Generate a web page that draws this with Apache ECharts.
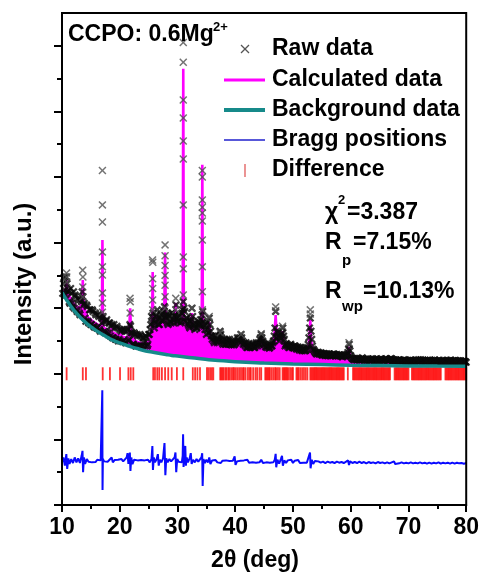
<!DOCTYPE html>
<html><head><meta charset="utf-8">
<script src="https://cdn.jsdelivr.net/npm/echarts@6/dist/echarts.min.js"></script>
<style>html,body{margin:0;padding:0;background:#fff}#c{width:482px;height:577px}</style>
</head><body><div id="c"></div>
<script>
// ---- data (y in arbitrary intensity units) ----
const xTicks = [10, 20, 30, 40, 50, 60, 70, 80];
const yMajor = [0, 2, 4, 6, 8, 10, 12, 14];
const yMinor = [1, 3, 5, 7, 9, 11, 13];

// raw data, step scan (two interleaved passes, 0.125 deg apart)
const rawStart = 10.25, rawStep = 0.25;
const rawY = [
 6.75,6.55,6.95,6.5, 6.2,6.6,6.15,6.5, 6.4,5.95,6.3,5.85, 6.25,6.5,6.1,5.7,
 6.1,5.6,5.95,5.5, 5.95,5.45,5.85,5.4, 5.8,5.35,5.75,5.7, 5.6,5.25,5.65,5.2,
 5.55,5.45,5.1,5.5, 5.05,5.45,5.0,5.35, 5.3,4.98,5.35,4.95, 5.3,5.0,5.5,5.25,
 4.9,5.25,4.85,5.2, 4.85,5.2,4.82,5.1, 4.95,5.15,4.85,5.2, 5.35,5.75,5.85,5.4,
 5.75,5.95,5.5,5.7, 5.65,5.85,6.05,5.75, 5.55,5.75,5.6,5.85, 5.65,5.75,6.1,5.6,
 5.75,5.55,5.85,6.2, 5.9,5.7,5.55,5.45, 5.6,6.0,5.5,5.35, 5.4,5.5,5.55,5.65,
 5.8,5.6,5.35,5.2, 5.35,5.7,5.3,5.05, 5.0,5.1,5.0,5.05, 5.15,5.2,5.0,4.95,
 4.9,5.0,4.95,5.05, 4.9,4.95,4.88,4.95, 5.0,5.05,5.1,5.2, 5.0,4.95,4.85,4.8,
 4.85,4.82,4.9,4.88, 4.8,4.85,4.9,4.95, 5.05,5.2,5.0,4.9, 4.82,4.8,4.85,4.8,
 4.85,4.95,5.15,5.9, 5.3,5.15,5.1,5.2, 5.4,5.05,4.9,4.85, 4.8,4.88,4.85,4.82,
 4.85,4.78,4.8,4.75, 4.8,4.72,4.75,4.7, 4.72,4.8,5.1,5.7, 5.05,4.75,4.68,4.62,
 4.65,4.6,4.63,4.57, 4.61,4.56,4.6,4.55, 4.6,4.55,4.58,4.6, 4.55,4.58,4.54,4.57,
 4.55,4.52,4.56,4.54, 4.58,4.65,4.9,4.55, 4.47,4.44,4.47,4.42, 4.46,4.43,4.44,4.49,
 4.42,4.44,4.4,4.44, 4.41,4.43,4.46,4.41, 4.44,4.4,4.42,4.39, 4.44,4.4,4.43,4.46,
 4.41,4.39,4.44,4.47, 4.41,4.39,4.43,4.4, 4.42,4.38,4.41,4.39, 4.43,4.38,4.4,4.37,
 4.41,4.38,4.4,4.37, 4.41,4.39,4.43,4.38, 4.4,4.42,4.38,4.36, 4.4,4.38,4.41,4.37,
 4.39,4.42,4.38,4.36, 4.4,4.37,4.39,4.41, 4.37,4.39,4.36,4.38, 4.41,4.37,4.4,4.38,
 4.36,4.39,4.37,4.4, 4.36,4.38,4.37,4.35
];
const rawStart2 = 10.125;
const rawY2 = [
 6.45,6.95,6.4,6.75, 6.55,6.15,6.45,6.05, 6.0,6.35,5.9,6.25, 5.8,6.2,6.35,6.15,
 5.6,6.05,5.55,5.95, 5.5,5.9,5.42,5.8, 5.4,5.75,5.3,5.55, 5.75,5.3,5.6,5.25,
 5.55,5.15,5.5,5.1, 5.4,5.05,5.4,5.05, 5.0,5.35,5.0,5.3, 4.95,5.35,5.05,5.45,
 5.25,4.9,5.2,4.85, 5.15,4.85,5.15,4.85, 5.1,4.85,5.1,4.9, 5.2,5.5,5.55,5.6,
 5.55,5.8,5.65,5.5, 5.8,5.6,5.9,5.7, 5.8,5.5,5.8,5.55, 5.85,5.55,5.8,5.7,
 5.6,5.8,5.6,5.95, 6.0,5.6,5.7,5.5, 5.4,5.65,5.75,5.45, 5.55,5.4,5.6,5.5,
 5.45,5.9,5.45,5.5, 5.55,5.25,5.5,5.15, 5.15,4.95,5.15,4.95, 5.0,5.3,5.1,4.9,
 5.05,4.9,5.05,4.9, 5.0,4.88,5.0,4.9, 4.95,5.1,5.0,5.05, 5.1,4.9,4.9,4.95,
 4.8,4.92,4.8,4.85, 4.9,4.8,4.95,4.85, 4.9,5.1,5.1,4.95, 4.9,4.85,4.9,4.78,
 4.9,4.85,5.0,5.4, 5.1,5.25,5.0,5.1, 5.25,5.15,4.85,4.92, 4.88,4.8,4.9,4.8,
 4.78,4.85,4.75,4.82, 4.72,4.8,4.7,4.76, 4.7,4.75,4.9,5.4, 5.3,4.85,4.72,4.65,
 4.6,4.66,4.6,4.64, 4.57,4.62,4.56,4.61, 4.56,4.6,4.55,4.58, 4.6,4.55,4.59,4.55,
 4.58,4.55,4.52,4.57, 4.55,4.58,4.75,4.7, 4.5,4.46,4.42,4.46, 4.42,4.47,4.42,4.45,
 4.46,4.41,4.45,4.41, 4.44,4.4,4.42,4.45, 4.41,4.45,4.39,4.43, 4.41,4.46,4.41,4.43,
 4.44,4.42,4.4,4.44, 4.45,4.43,4.38,4.42, 4.39,4.42,4.4,4.37, 4.4,4.41,4.37,4.41,
 4.39,4.42,4.37,4.4, 4.38,4.42,4.38,4.4, 4.43,4.38,4.4,4.41, 4.37,4.41,4.38,4.4,
 4.41,4.37,4.41,4.39, 4.38,4.41,4.37,4.39, 4.4,4.37,4.41,4.39, 4.38,4.41,4.36,4.4,
 4.41,4.37,4.4,4.37, 4.39,4.36,4.39,4.37
];
// raw points on the flanks / tops of the strong reflections
const rawPeaks = [
 [10.78,7.07],[10.82,6.95],[10.8,6.8],
 [13.58,7.16],[13.62,6.95],[13.6,6.65],[13.6,6.34],
 [17.0,10.2],[17.0,9.15],[17.0,8.63],[17.0,7.71],[17.0,7.26],[17.0,7.01],[17.0,6.46],[17.0,6.16],[17.0,5.88],
 [21.78,6.3],[21.82,6.2],[21.8,5.85],
 [25.68,7.47],[25.72,7.4],[25.7,6.9],[25.7,6.6],[25.7,6.25],[25.7,5.95],
 [27.85,7.93],[27.85,7.6],[27.85,7.3],[27.85,7.0],[27.85,6.7],[27.85,6.35],[27.85,6.0],
 [29.7,6.3],[29.7,5.95],
 [31.0,14.1],[31.0,13.5],[31.0,12.35],[31.0,11.8],[31.0,11.1],[31.0,10.55],[31.0,9.15],[31.0,7.56],[31.0,7.2],[31.0,6.4],
 [32.5,6.0],
 [34.3,10.2],[34.3,10.0],[34.3,9.3],[34.3,9.08],[34.3,8.9],[34.3,8.66],[34.3,8.08],[34.3,7.26],[34.3,6.5],[34.3,5.95],
 [35.5,5.75],[37.4,5.25],[41.0,5.2],[44.5,5.22],
 [47.0,6.04],[47.0,5.92],[48.2,5.45],[53.0,5.95],[53.0,5.82],[59.7,4.95]
];
// calculated pattern
const calcData = [
 [10.0,6.55],[10.35,6.5],[10.7,6.6],[10.8,6.86],[10.9,6.55],[11.1,6.4],[11.5,6.3],[12.0,6.15],[12.5,6.05],[13.0,5.98],
 [13.3,6.1],[13.5,6.4],[13.6,6.86],[13.7,6.3],[13.9,6.0],[14.2,5.85],[14.5,5.72],[15.0,5.65],[15.5,5.58],[16.0,5.52],
 [16.5,5.47],[16.9,5.45],[17.0,8.08],[17.1,5.42],[17.5,5.38],[18.0,5.32],[18.5,5.3],[18.6,5.4],[18.7,5.27],[19.0,5.23],
 [19.5,5.2],[20.0,5.17],[20.2,5.25],[20.4,5.14],[20.8,5.11],[21.3,5.1],[21.6,5.2],[21.8,6.0],[22.0,5.15],[22.5,5.03],
 [23.0,4.98],[23.5,4.95],[24.0,4.93],[24.5,4.95],[25.0,4.98],[25.4,5.2],[25.6,5.6],[25.7,7.1],[25.8,5.55],[26.1,5.5],
 [26.5,5.75],[26.7,5.5],[27.0,5.45],[27.4,5.6],[27.7,5.7],[27.85,7.7],[28.0,5.6],[28.3,5.5],[28.7,5.55],[29.0,5.65],
 [29.3,5.5],[29.6,5.55],[29.7,6.16],[29.8,5.5],[30.2,5.55],[30.6,5.45],[30.9,5.7],[31.0,13.3],[31.1,5.75],[31.4,5.6],
 [31.7,5.4],[32.0,5.3],[32.3,5.45],[32.5,5.85],[32.7,5.35],[33.0,5.2],[33.5,5.25],[33.9,5.35],[34.2,5.6],[34.3,10.37],
 [34.4,5.5],[34.7,5.2],[35.0,5.05],[35.3,5.2],[35.5,5.58],[35.7,5.1],[36.0,4.95],[36.5,4.9],[37.0,4.95],[37.4,5.12],
 [37.6,4.92],[38.0,4.85],[38.5,4.82],[39.0,4.9],[39.5,4.8],[40.0,4.85],[40.5,4.95],[41.0,5.09],[41.3,4.9],[41.7,4.8],
 [42.0,4.7],[42.5,4.72],[43.0,4.78],[43.5,4.7],[44.0,4.8],[44.5,5.09],[44.8,4.9],[45.2,4.75],[45.7,4.7],[46.2,4.75],
 [46.7,5.0],[47.0,5.79],[47.2,5.1],[47.6,5.0],[48.0,5.05],[48.2,5.3],[48.4,4.95],[48.8,4.75],[49.2,4.7],[49.7,4.75],
 [50.2,4.72],[50.7,4.65],[51.2,4.7],[51.7,4.6],[52.2,4.55],[52.6,4.7],[52.85,5.1],[53.0,5.64],[53.15,5.0],[53.5,4.65],
 [54.0,4.55],[54.5,4.5],[55.0,4.52],[55.5,4.48],[56.0,4.5],[56.5,4.47],[57.0,4.5],[57.5,4.45],[58.0,4.48],[58.5,4.44],
 [59.0,4.47],[59.5,4.55],[59.7,4.82],[59.9,4.5],[60.3,4.42],[60.8,4.4],[61.5,4.38],[62.0,4.42],[62.5,4.36],[63.0,4.38],
 [63.5,4.35],[64.0,4.4],[64.5,4.34],[65.0,4.36],[65.5,4.33],[66.0,4.38],[66.5,4.33],[67.0,4.4],[67.5,4.35],[68.0,4.33],
 [68.5,4.36],[69.0,4.32],[69.5,4.35],[70.0,4.31],[70.5,4.34],[71.0,4.31],[71.5,4.35],[72.0,4.32],[72.5,4.36],[73.0,4.3],
 [73.5,4.33],[74.0,4.31],[74.5,4.35],[75.0,4.3],[75.5,4.33],[76.0,4.31],[76.5,4.34],[77.0,4.3],[77.5,4.36],[78.0,4.32],
 [78.5,4.33],[79.0,4.3],[79.5,4.33],[80.0,4.3]
];
// background
const bgData = [
 [10.0,6.48],[10.5,6.33],[11,6.2],[11.5,6.07],[12,5.95],[12.5,5.85],[13,5.75],[13.5,5.66],[14,5.58],[14.5,5.5],
 [15,5.43],[15.5,5.37],[16,5.31],[16.5,5.25],[17,5.2],[17.5,5.15],[18,5.1],[18.5,5.05],[19,5.01],[19.5,4.97],
 [20,4.94],[21,4.88],[22,4.82],[23,4.77],[24,4.72],[25,4.68],[26,4.65],[27,4.62],[28,4.59],[29,4.56],[30,4.54],
 [32,4.5],[34,4.46],[36,4.42],[38,4.4],[40,4.37],[45,4.33],[50,4.3],[55,4.28],[60,4.26],[65,4.25],[70,4.24],[75,4.235],[80,4.23]
];
// difference curve
const diffData = [
 [10.0,1.3],[10.25,1.45],[10.5,1.2],[10.75,1.55],[10.9,1.1],[11.1,1.42],[11.3,1.25],[11.6,1.4],[11.9,1.28],[12.2,1.45],
 [12.5,1.3],[12.8,1.42],[13.1,1.28],[13.4,1.5],[13.55,1.65],[13.65,1.0],[13.8,1.45],[14.0,1.25],[14.3,1.4],[14.6,1.32],
 [14.9,1.38],[15.2,1.3],[15.5,1.36],[15.8,1.31],[16.1,1.38],[16.4,1.32],[16.7,1.36],[16.92,1.3],[16.98,3.5],[17.02,0.46],
 [17.08,1.4],[17.3,1.33],[17.6,1.38],[17.9,1.32],[18.2,1.37],[18.6,1.45],[18.8,1.3],[19.1,1.37],[19.4,1.34],[19.7,1.38],
 [20.0,1.32],[20.3,1.4],[20.6,1.33],[20.9,1.36],[21.2,1.45],[21.35,1.58],[21.5,1.25],[21.75,1.6],[21.85,1.04],[22.0,1.45],
 [22.2,1.25],[22.5,1.38],[22.8,1.32],[23.1,1.36],[23.4,1.33],[23.7,1.37],[24.0,1.31],[24.3,1.36],[24.6,1.33],[24.9,1.38],
 [25.2,1.3],[25.5,1.4],[25.65,1.8],[25.75,1.07],[25.9,1.45],[26.1,1.3],[26.4,1.4],[26.6,1.55],[26.75,1.2],[26.95,1.38],
 [27.2,1.3],[27.5,1.42],[27.75,1.89],[27.9,0.91],[28.05,1.42],[28.3,1.3],[28.6,1.4],[28.9,1.33],[29.2,1.38],[29.5,1.45],
 [29.65,1.6],[29.78,1.0],[29.95,1.4],[30.2,1.32],[30.5,1.38],[30.75,1.3],[30.9,1.5],[30.97,2.16],[31.05,1.16],[31.2,1.5],
 [31.35,1.8],[31.45,1.2],[31.6,1.45],[31.8,1.3],[32.1,1.42],[32.3,1.58],[32.45,1.25],[32.7,1.38],[33.0,1.3],[33.3,1.4],
 [33.6,1.32],[33.9,1.38],[34.15,1.45],[34.28,1.58],[34.36,0.58],[34.5,1.4],[34.75,1.28],[35.0,1.38],[35.3,1.3],[35.5,1.45],
 [35.7,1.25],[36.0,1.36],[36.3,1.3],[36.6,1.37],[36.9,1.3],[37.2,1.36],[37.5,1.28],[37.8,1.35],[38.1,1.31],[38.4,1.36],
 [38.7,1.3],[39.0,1.34],[39.3,1.29],[39.6,1.35],[39.9,1.48],[40.05,1.22],[40.3,1.33],[40.6,1.28],[40.9,1.35],[41.2,1.3],
 [41.5,1.36],[41.8,1.3],[42.1,1.38],[42.4,1.29],[42.7,1.35],[43.0,1.3],[43.3,1.36],[43.6,1.29],[43.9,1.34],[44.2,1.3],
 [44.5,1.38],[44.8,1.28],[45.1,1.34],[45.4,1.3],[45.7,1.35],[46.0,1.29],[46.3,1.34],[46.6,1.3],[46.85,1.38],[47.0,1.56],
 [47.1,1.15],[47.3,1.38],[47.6,1.26],[47.9,1.4],[48.1,1.5],[48.25,1.2],[48.5,1.36],[48.8,1.28],[49.1,1.36],[49.4,1.3],
 [49.7,1.38],[50.0,1.28],[50.3,1.35],[50.6,1.3],[50.9,1.37],[51.2,1.28],[51.5,1.34],[51.8,1.29],[52.1,1.34],[52.4,1.29],
 [52.7,1.33],[52.95,1.6],[53.05,1.12],[53.25,1.38],[53.5,1.25],[53.8,1.34],[54.1,1.28],[54.4,1.33],[54.8,1.29],[55.2,1.32],
 [55.6,1.28],[56.0,1.32],[56.4,1.29],[56.8,1.31],[57.2,1.28],[57.6,1.32],[58.0,1.29],[58.4,1.31],[58.8,1.28],[59.2,1.32],
 [59.55,1.36],[59.7,1.22],[59.9,1.33],[60.3,1.28],[60.7,1.31],[61.1,1.28],[61.5,1.32],[61.9,1.28],[62.3,1.31],[62.7,1.27],
 [63.1,1.31],[63.5,1.28],[63.9,1.3],[64.3,1.27],[64.7,1.31],[65.1,1.28],[65.5,1.3],[65.9,1.27],[66.3,1.3],[66.7,1.27],
 [67.1,1.3],[67.5,1.33],[67.7,1.25],[68.0,1.3],[68.4,1.27],[68.8,1.3],[69.2,1.27],[69.6,1.29],[70.0,1.27],[70.4,1.3],
 [70.8,1.27],[71.2,1.29],[71.6,1.27],[72.0,1.3],[72.4,1.27],[72.8,1.29],[73.2,1.26],[73.6,1.29],[74.0,1.26],[74.4,1.29],
 [74.8,1.27],[75.2,1.3],[75.6,1.26],[76.0,1.29],[76.4,1.27],[76.8,1.29],[77.2,1.26],[77.6,1.29],[78.0,1.26],[78.4,1.29],
 [78.8,1.27],[79.2,1.28],[79.6,1.26],[80.0,1.28]
];
// Bragg reflection positions (2θ)
const braggPos = [
 10.8,13.6,14.15,17.05,18.3,20.05,21.5,21.9,22.35,25.8,26.1,26.5,26.85,27.3,27.85,28.4,29.0,29.9,31.0,
 32.65,33.05,33.45,33.9,35.1,35.35,35.65,35.95,36.2,
 37.4,37.6,37.8,38.0,38.3,38.5,38.8,39.0,39.3,39.6,39.8,40.1,40.4,40.7,41.0,41.3,41.5,41.8,42.2,42.5,42.7,
 43.1,43.5,43.8,44.2,44.5,45.2,45.4,45.6,45.8,46.0,46.3,46.6,46.9,47.1,47.4,47.7,48.2,48.4,48.6,48.8,49.0,
 49.2,49.5,49.8,50.0,50.6,50.8,51.0,51.3,51.6,51.9,52.2,52.5,
 53.0,53.2,53.4,53.6,53.8,54.0,54.2,54.4,54.6,54.8,55.0,55.2,55.4,55.6,55.8,56.0,56.2,56.4,56.6,56.8,
 57.0,57.2,57.4,57.6,57.8,58.0,58.2,58.4,58.6,58.8,59.5,
 60.4,60.6,60.8,61.0,61.2,61.4,61.6,61.8,62.0,62.2,62.4,62.6,62.8,63.0,63.2,63.4,63.6,63.8,64.0,64.2,
 64.4,64.6,64.8,65.0,65.2,65.4,65.6,65.8,66.0,66.2,66.4,66.6,66.8,
 67.6,67.8,68.0,68.2,68.4,68.6,68.8,69.0,69.2,69.4,69.6,69.8,70.0,
 70.6,70.8,71.0,71.2,71.4,71.6,71.8,72.0,72.2,72.4,72.6,72.8,73.0,73.2,73.4,73.6,73.8,74.0,74.2,74.4,
 74.6,74.8,75.0,75.2,75.4,75.6,
 76.4,76.6,76.8,77.0,77.2,77.4,77.6,77.8,78.0,78.2,78.4,78.6,78.8,79.0,79.2,79.4,79.6,79.8,80.0
];

// ---- build ----
const FONT = '"Liberation Sans", Arial, Helvetica, sans-serif';
const rawStepData = rawY.map((v, i) => [rawStart + i * rawStep, v])
  .concat(rawY2.map((v, i) => [rawStart2 + i * rawStep, v]));
const braggLevel = 4.0;
const braggData = braggPos.map(x => [x, braggLevel]);
const CROSS = 'path://M0,1.3L1.3,0L5,3.7L8.7,0L10,1.3L6.3,5L10,8.7L8.7,10L5,6.3L1.3,10L0,8.7L3.7,5Z';
const CROSS_BOLD = 'path://M0,2L2,0L5,3L8,0L10,2L7,5L10,8L8,10L5,7L2,10L0,8L3,5Z';

function txt(x, y, s, size, align, extra) {
  return Object.assign({
    type: 'text', x: x, y: y, z: 100,
    style: { text: s, font: 'bold ' + size + 'px ' + FONT, fill: '#000',
             align: align || 'left', verticalAlign: 'middle',
             textAlign: align || 'left', textVerticalAlign: 'middle' }
  }, extra || {});
}
function seg(x1, y1, x2, y2, color, w) {
  return { type: 'line', z: 100, shape: { x1, y1, x2, y2 }, style: { stroke: color, lineWidth: w } };
}

const chart = echarts.init(document.getElementById('c'), null, { renderer: 'canvas' });
chart.setOption({
  animation: false,
  backgroundColor: '#fff',
  grid: { left: 62, right: 15, top: 13, bottom: 72, show: true, borderColor: '#000', borderWidth: 2, z: 10 },
  xAxis: {
    type: 'value', min: 10, max: 80, interval: 10, z: 10,
    axisLine: { lineStyle: { color: '#000', width: 2 } },
    axisTick: { length: 7, lineStyle: { color: '#000', width: 2 } },
    minorTick: { show: true, splitNumber: 2, length: 4, lineStyle: { color: '#000', width: 2 } },
    splitLine: { show: false },
    axisLabel: { color: '#000', fontSize: 23, fontWeight: 'bold', fontFamily: FONT, margin: 11,
                 customValues: xTicks }
  },
  yAxis: [
    { type: 'value', min: 0, max: 15, z: 10,
      axisLine: { show: true, lineStyle: { color: '#000', width: 2 } },
      axisTick: { show: true, length: 8, customValues: yMajor, lineStyle: { color: '#000', width: 2 } },
      axisLabel: { show: false }, splitLine: { show: false } },
    { type: 'value', min: 0, max: 15, z: 10, position: 'left',
      axisLine: { show: false },
      axisTick: { show: true, length: 5, customValues: yMinor, lineStyle: { color: '#000', width: 2 } },
      axisLabel: { show: false }, splitLine: { show: false } }
  ],
  series: [
    { name: 'Calculated data', type: 'line', data: calcData, symbol: 'none', z: 2,
      lineStyle: { color: '#ff00ff', width: 2.6 }, areaStyle: { color: '#ff00ff', opacity: 1 } },
    { name: 'cover', type: 'line', data: bgData, smooth: true, symbol: 'none', z: 3,
      lineStyle: { width: 0, opacity: 0 }, areaStyle: { color: '#ffffff', opacity: 1 } },
    { name: 'Bragg positions', type: 'scatter', data: braggData, symbol: 'rect', symbolSize: [1.8, 13], z: 4,
      itemStyle: { color: '#ff0000' } },
    { name: 'Difference', type: 'line', data: diffData, symbol: 'none', z: 4,
      lineStyle: { color: '#0a0aff', width: 2 } },
    { name: 'Raw data', type: 'scatter', data: rawStepData, symbol: CROSS_BOLD, symbolSize: 8, z: 5,
      itemStyle: { color: '#0a0a0a' } },
    { name: 'Raw data ', type: 'scatter', data: rawPeaks, symbol: CROSS, symbolSize: 8, z: 5,
      itemStyle: { color: '#505050' } },
    { name: 'Background data', type: 'line', data: bgData, smooth: true, symbol: 'none', z: 6,
      lineStyle: { color: '#168a8a', width: 3.5 } }
  ],
  graphic: [
    txt(68, 35, 'CCPO: 0.6Mg', 23),
    txt(213, 27, '2+', 13),
    // legend
    seg(241, 45, 249, 53, '#555', 1.2), seg(241, 53, 249, 45, '#555', 1.2),
    txt(272, 49, 'Raw data', 23),
    seg(224, 80, 265, 80, '#ff00ff', 3),
    txt(272, 80, 'Calculated data', 23),
    seg(224, 110, 265, 110, '#168a8a', 4),
    txt(272, 110, 'Background data', 23),
    seg(224, 140, 265, 140, '#2020cc', 1.6),
    txt(272, 140, 'Bragg positions', 23),
    seg(245, 164, 245, 177, '#e05a5a', 1.3),
    txt(272, 170, 'Difference', 23),
    // fit statistics
    txt(325, 213, 'χ', 23), txt(338, 200, '2', 13), txt(347, 213, '=3.387', 23),
    txt(325, 243, 'R', 23), txt(342, 261, 'p', 15), txt(353, 243, '=7.15%', 23),
    txt(325, 292, 'R', 23), txt(342, 307, 'wp', 15), txt(363, 292, '=10.13%', 23),
    // axis names
    txt(255, 561, '2θ (deg)', 23, 'center'),
    txt(24, 284, 'Intensity (a.u.)', 24, 'center', { rotation: Math.PI / 2 })
  ]
});
</script>
</body></html>
